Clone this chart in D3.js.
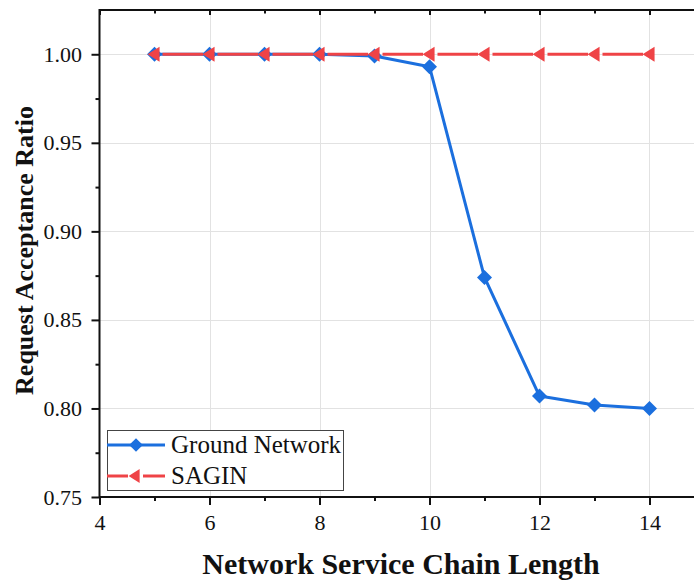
<!DOCTYPE html>
<html>
<head>
<meta charset="utf-8">
<script src="https://cdn.jsdelivr.net/npm/d3@7"></script>
<style>
  html, body { margin: 0; padding: 0; background: #fff; }
  svg { display: block; }
  svg text { font-family: "Liberation Serif", "Times New Roman", serif; fill: #111; }
</style>
</head>
<body>
<script>
// Chain lengths and acceptance ratios for the two network types
const chainLengths = [5, 6, 7, 8, 9, 10, 11, 12, 13, 14];
const groundNetwork = [1.000, 1.000, 1.000, 1.000, 0.999, 0.993, 0.874, 0.807, 0.802, 0.800];
const sagin = [1.000, 1.000, 1.000, 1.000, 1.000, 1.000, 1.000, 1.000, 1.000, 1.000];
const xTicks = [4, 6, 8, 10, 12, 14];
const xMinorTicks = [5, 7, 9, 11, 13];
const yTicks = [0.75, 0.80, 0.85, 0.90, 0.95, 1.00];
const yMinorTicks = [0.775, 0.825, 0.875, 0.925, 0.975];
const seriesNames = ["Ground Network", "SAGIN"];

const W = 694, H = 582;
const plotL = 99.5, plotT = 10, plotB = 497, plotR = 704.5;
const blue = "#1b6fde", red = "#ef4346";
const serif = '"Liberation Serif", "Times New Roman", serif';

const svg = d3.select("body").append("svg").attr("width", W).attr("height", H);

const x = d3.scaleLinear().domain([4, 15]).range([plotL, plotR]);
const y = d3.scaleLinear().domain([0.75, 1.025]).range([plotB, plotT]);

// grid
const grid = svg.append("g").attr("stroke", "#e2e2e2").attr("stroke-width", 1);
grid.selectAll("line.v").data(xTicks.slice(1)).join("line").attr("class", "v")
  .attr("x1", d => Math.round(x(d)) + 0.5).attr("x2", d => Math.round(x(d)) + 0.5)
  .attr("y1", plotT).attr("y2", plotB);
grid.selectAll("line.h").data(yTicks.slice(1)).join("line").attr("class", "h")
  .attr("y1", d => Math.round(y(d)) + 0.5).attr("y2", d => Math.round(y(d)) + 0.5)
  .attr("x1", plotL).attr("x2", plotR);

// axes
const fmtY = d3.format(".2f");
const axisFont = 22;

const gx = svg.append("g").attr("transform", `translate(0,${plotB})`)
  .call(d3.axisBottom(x).tickValues(xTicks).tickSize(8).tickPadding(9).tickFormat(d3.format("d")));
gx.append("g").call(d3.axisBottom(x).tickValues(xMinorTicks).tickSize(4).tickFormat(""));

const gxTop = svg.append("g").attr("transform", `translate(0,${plotT})`)
  .call(d3.axisBottom(x).tickValues(xTicks).tickSize(5).tickFormat(""));
gxTop.append("g").call(d3.axisBottom(x).tickValues(xMinorTicks).tickSize(3.5).tickFormat(""));

const gy = svg.append("g").attr("transform", `translate(${plotL},0)`)
  .call(d3.axisLeft(y).tickValues(yTicks).tickSize(8).tickPadding(9.5).tickFormat(fmtY));
gy.append("g").call(d3.axisLeft(y).tickValues(yMinorTicks).tickSize(4).tickFormat(""));

[gx, gxTop, gy].forEach(g => {
  g.attr("font-family", null).attr("font-size", null);
  g.selectAll(".domain").remove();
  g.selectAll("line").attr("stroke", "#111").attr("stroke-width", 2);
  g.selectAll("text").style("font-size", axisFont + "px").style("font-family", serif).attr("fill", "#111");
});

// axis lines
svg.append("line").attr("x1", plotL).attr("x2", plotR).attr("y1", plotB).attr("y2", plotB)
  .attr("stroke", "#111").attr("stroke-width", 2);
svg.append("line").attr("x1", plotL).attr("x2", plotR).attr("y1", plotT).attr("y2", plotT)
  .attr("stroke", "#111").attr("stroke-width", 2);
svg.append("line").attr("x1", plotL).attr("x2", plotL).attr("y1", plotT - 1).attr("y2", plotB + 1)
  .attr("stroke", "#111").attr("stroke-width", 2);

// marker shapes
const diamondPath = r => `M0,${-r}L${r},0L0,${r}L${-r},0Z`;
const tri = (w, h) => `M${-w * 0.58},0L${w * 0.42},${-h / 2}L${w * 0.42},${h / 2}Z`;

// Ground Network line + diamonds
const gData = chainLengths.map((c, i) => [c, groundNetwork[i]]);
const line = d3.line().x(d => x(d[0])).y(d => y(d[1]));
svg.append("path").datum(gData).attr("d", line)
  .attr("fill", "none").attr("stroke", blue).attr("stroke-width", 3).attr("stroke-linejoin", "round");
svg.append("g").selectAll("path").data(gData).join("path")
  .attr("d", diamondPath(7.5))
  .attr("transform", d => `translate(${x(d[0])},${y(d[1])})`)
  .attr("fill", blue);

// SAGIN line with gaps around left-pointing triangles
const sData = chainLengths.map((c, i) => [c, sagin[i]]);
const gapL = 6.5, gapR = 8;
const segs = d3.pairs(sData);
svg.append("g").selectAll("line").data(segs).join("line")
  .attr("x1", d => x(d[0][0]) + gapR).attr("x2", d => x(d[1][0]) - gapL)
  .attr("y1", d => y(d[0][1])).attr("y2", d => y(d[1][1]))
  .attr("stroke", red).attr("stroke-width", 3);
svg.append("g").selectAll("path").data(sData).join("path")
  .attr("d", tri(12, 15))
  .attr("transform", d => `translate(${x(d[0])},${y(d[1])})`)
  .attr("fill", red);

// legend
const lg = svg.append("g");
lg.append("rect").attr("x", 107.5).attr("y", 430.5).attr("width", 236).attr("height", 60)
  .attr("fill", "#fff").attr("stroke", "#444").attr("stroke-width", 1);
const legendRows = [
  { name: seriesNames[0], color: blue, y: 445, type: "diamond" },
  { name: seriesNames[1], color: red, y: 476, type: "tri" }
];
legendRows.forEach(r => {
  if (r.type === "diamond") {
    lg.append("line").attr("x1", 107).attr("x2", 165).attr("y1", r.y).attr("y2", r.y)
      .attr("stroke", r.color).attr("stroke-width", 3);
    lg.append("path").attr("d", diamondPath(6.8))
      .attr("transform", `translate(136,${r.y})`).attr("fill", r.color);
  } else {
    lg.append("line").attr("x1", 107).attr("x2", 128).attr("y1", r.y).attr("y2", r.y)
      .attr("stroke", r.color).attr("stroke-width", 3);
    lg.append("line").attr("x1", 143).attr("x2", 165).attr("y1", r.y).attr("y2", r.y)
      .attr("stroke", r.color).attr("stroke-width", 3);
    lg.append("path").attr("d", tri(11, 14))
      .attr("transform", `translate(135,${r.y})`).attr("fill", r.color);
  }
  lg.append("text").attr("x", 171).attr("y", r.y + 8).style("font-size", "25px").text(r.name);
});

// axis titles
svg.append("text").attr("x", 401).attr("y", 574).attr("text-anchor", "middle")
  .style("font-size", "30px").attr("font-weight", "bold").text("Network Service Chain Length");
svg.append("text").attr("transform", `translate(33,${(plotT + plotB) / 2 - 3}) rotate(-90)`)
  .attr("text-anchor", "middle").style("font-size", "26px").attr("font-weight", "bold")
  .text("Request Acceptance Ratio");
</script>
</body>
</html>
